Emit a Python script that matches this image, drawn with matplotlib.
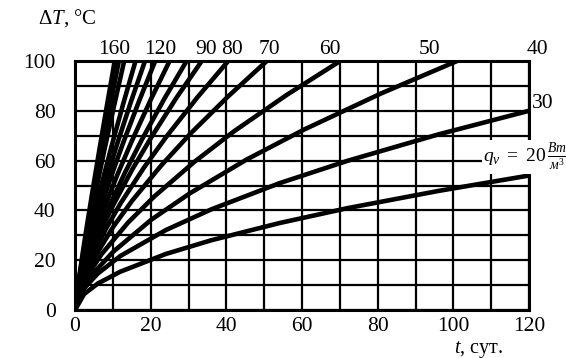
import matplotlib
matplotlib.use("Agg")
import matplotlib.pyplot as plt

plt.rcParams['font.family'] = ['Liberation Serif', 'DejaVu Serif']
plt.rcParams['mathtext.fontset'] = 'custom'
plt.rcParams['mathtext.rm'] = 'Liberation Serif'
plt.rcParams['mathtext.it'] = 'Liberation Serif:italic'
plt.rcParams['mathtext.bf'] = 'Liberation Serif:bold'

# ---- data: (t, days) -> (dT, degC) for each curve ----
t_q160 = [0, 0.21, 0.53, 1.05, 2.1, 3.15, 4.73, 6.3, 8.4, 10.5]
dT_q160 = [0, 3.0, 6.7, 12.6, 23.5, 33.8, 48.7, 63.1, 81.8, 100]
t_q150 = [0, 0.23, 0.58, 1.16, 2.32, 3.48, 5.22, 6.96, 9.28, 11.6]
dT_q150 = [0, 3.2, 7.2, 13.2, 24.3, 34.7, 49.5, 63.8, 82.2, 100]
t_q140 = [0, 0.26, 0.65, 1.3, 2.6, 3.9, 5.85, 7.8, 10.4, 13.0]
dT_q140 = [0, 3.5, 7.6, 13.8, 25.1, 35.5, 50.3, 64.5, 82.5, 100]
t_q130 = [0, 0.32, 0.8, 1.6, 3.2, 4.8, 7.2, 9.6, 12.8, 16.0]
dT_q130 = [0, 3.9, 8.3, 14.8, 26.3, 36.8, 51.5, 65.4, 83.1, 100]
t_q120 = [0, 0.37, 0.93, 1.85, 3.7, 5.55, 8.33, 11.1, 14.8, 18.5]
dT_q120 = [0, 4.4, 9.1, 15.8, 27.6, 38.2, 52.8, 66.5, 83.7, 100]
t_q110 = [0, 0.42, 1.06, 2.12, 4.24, 6.36, 9.54, 12.72, 16.96, 21.2]
dT_q110 = [0, 4.7, 9.7, 16.6, 28.5, 39.1, 53.6, 67.1, 84.0, 100]
t_q100 = [0, 0.5, 1.25, 2.5, 5, 7.5, 11.25, 15, 20, 25]
dT_q100 = [0, 5.1, 10.3, 17.4, 29.4, 40.1, 54.5, 67.8, 84.4, 100]
t_q90 = [0, 0.59, 1.48, 2.95, 5.9, 8.85, 13.28, 17.7, 23.6, 29.5]
dT_q90 = [0, 5.5, 10.9, 18.2, 30.4, 41.0, 55.4, 68.5, 84.8, 100]
t_q80 = [0, 0.67, 1.68, 3.35, 6.7, 10.05, 15.08, 20.1, 26.8, 33.5]
dT_q80 = [0, 6.0, 11.6, 19.1, 31.4, 42.0, 56.3, 69.2, 85.2, 100]
t_q70 = [0, 0.81, 2.03, 4.05, 8.1, 12.15, 18.23, 24.3, 32.4, 40.5]
dT_q70 = [0, 6.5, 12.3, 20.0, 32.4, 43.1, 57.2, 69.9, 85.5, 100]
t_q60 = [0, 1.01, 2.54, 5.07, 10.14, 15.21, 22.82, 30.42, 40.56, 50.7]
dT_q60 = [0, 7.0, 13.0, 20.9, 33.5, 44.1, 58.1, 70.7, 85.9, 100]
t_q50 = [0, 1.4, 3.5, 7.01, 14.02, 21.03, 31.55, 42.06, 56.08, 70.1]
dT_q50 = [0, 7.9, 14.3, 22.4, 35.1, 45.7, 59.5, 71.8, 86.5, 100]
t_q40 = [0, 2.02, 5.05, 10.1, 20.2, 30.3, 45.45, 60.6, 80.8, 101]
dT_q40 = [0, 8.5, 15.1, 23.4, 36.3, 46.8, 60.5, 72.5, 86.9, 100]
t_q30 = [0, 2.4, 6, 12, 24, 36, 54, 72, 96, 120]
dT_q30 = [0, 8.7, 14.6, 21.7, 32.1, 40.4, 50.9, 59.9, 70.5, 80]
t_q20 = [0, 2.4, 6, 12, 24, 36, 54, 72, 96, 120]
dT_q20 = [0, 6.4, 10.6, 15.4, 22.5, 28.0, 34.9, 40.9, 47.8, 54]

curves = [
    (t_q160, dT_q160), (t_q150, dT_q150), (t_q140, dT_q140), (t_q130, dT_q130),
    (t_q120, dT_q120), (t_q110, dT_q110), (t_q100, dT_q100), (t_q90, dT_q90),
    (t_q80, dT_q80), (t_q70, dT_q70), (t_q60, dT_q60), (t_q50, dT_q50),
    (t_q40, dT_q40), (t_q30, dT_q30), (t_q20, dT_q20),
]

# curve labels as placed in the picture (text, t, dT)
top_labels = ["160", "120", "90", "80", "70", "60", "50", "40"]
top_label_t = [10.3, 22.5, 34.6, 41.5, 51.5, 67.4, 93.6, 122.1]
x_ticks = [0, 20, 40, 60, 80, 100, 120]
y_ticks = [0, 20, 40, 60, 80, 100]

fig = plt.figure(figsize=(5.66, 3.58), dpi=100)
ax = fig.add_axes([75/566, (358-310)/358, (529-75)/566, (310-61)/358])
ax.set_xlim(0, 120)
ax.set_ylim(0, 100)

ax.set_xticks(x_ticks)
ax.set_yticks(y_ticks)
ax.set_xticks(range(0, 121, 10), minor=True)
ax.set_yticks(range(0, 101, 10), minor=True)
ax.grid(True, which='both', color='black', linewidth=1.6)
ax.set_axisbelow(True)
ax.tick_params(which='both', length=0)
ax.tick_params(axis='x', pad=5, labelsize=15.5)
ax.tick_params(axis='y', pad=14, labelsize=15.5)
for s in ax.spines.values():
    s.set_linewidth(2.2)

for t, d in curves:
    ax.plot(t, d, color='black', linewidth=3.3, solid_capstyle='butt', clip_on=True)

for lab, tx in zip(top_labels, top_label_t):
    ax.text(tx, 104.8, lab, ha='center', va='center', fontsize=15.5, clip_on=False)
ax.text(123.6, 83.1, "30", ha='center', va='center', fontsize=15.5, clip_on=False)
ax.text(107.8, 61.4, r"$q_v\ =\ 20\,\frac{Вт}{м^3}$", ha='left', va='center', fontsize=14,
        clip_on=False, bbox=dict(facecolor='white', edgecolor='none', pad=0.5))

fig.text(67/566, 1-18/358, "Δ$T$, °C", ha='center', va='center', fontsize=15)
fig.text(479/566, 1-349/358, "$t$, сут.", ha='center', va='center', fontsize=14.5)

fig.savefig("out.png", dpi=100)
